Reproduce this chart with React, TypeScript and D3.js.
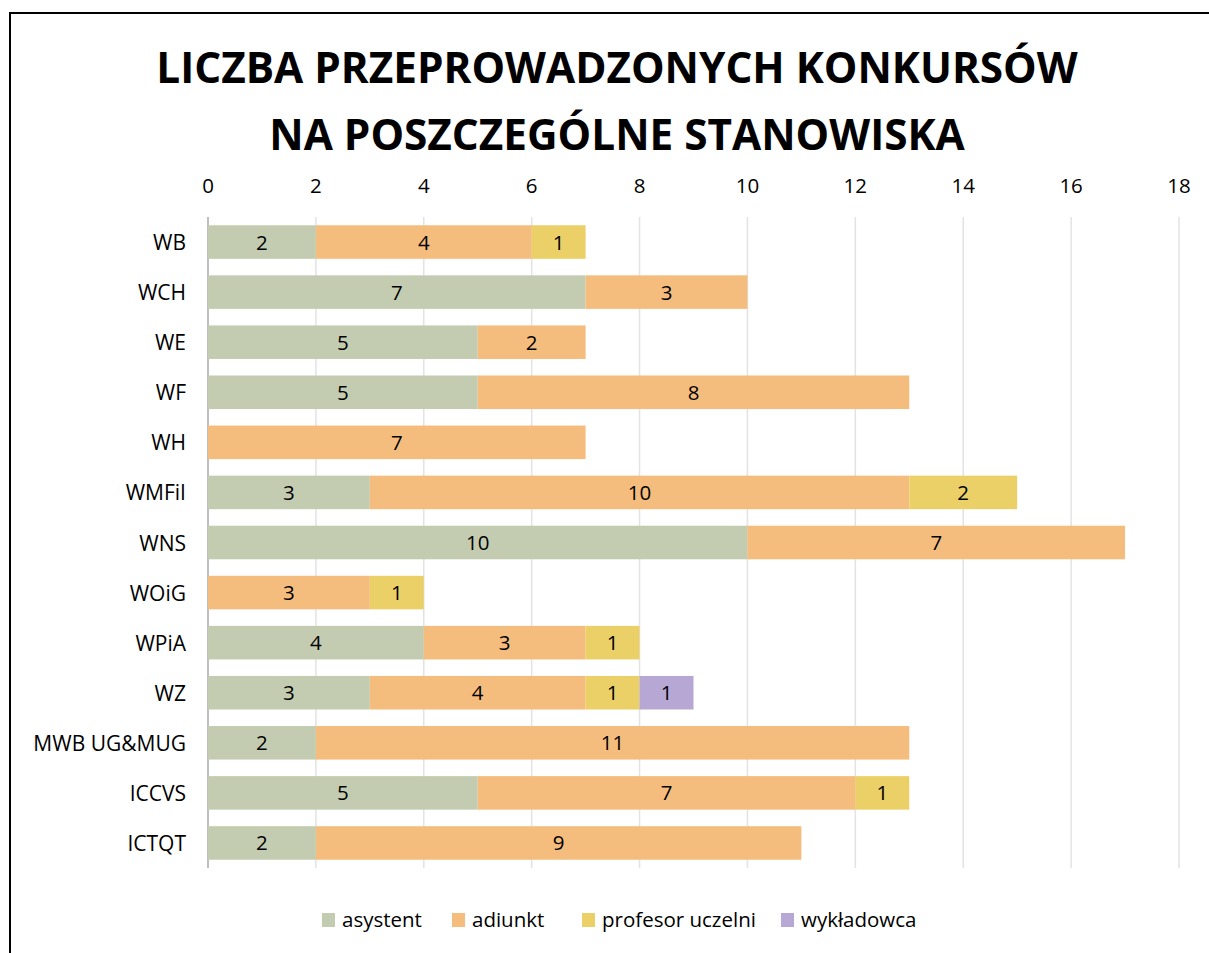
import React from "react";
import * as d3 from "d3";

const categories = ["WB", "WCH", "WE", "WF", "WH", "WMFiI", "WNS", "WOiG", "WPiA", "WZ", "MWB UG&MUG", "ICCVS", "ICTQT"];
const seriesNames = ["asystent", "adiunkt", "profesor uczelni", "wykładowca"];
const asystent = [2, 7, 5, 5, 0, 3, 10, 0, 4, 3, 2, 5, 2];
const adiunkt = [4, 3, 2, 8, 7, 10, 7, 3, 3, 4, 11, 7, 9];
const profesor = [1, 0, 0, 0, 0, 2, 0, 1, 1, 1, 0, 1, 0];
const wykladowca = [0, 0, 0, 0, 0, 0, 0, 0, 0, 1, 0, 0, 0];
const xTicks = [0, 2, 4, 6, 8, 10, 12, 14, 16, 18];
const colors = ["#C3CCB1", "#F5BD7D", "#EBD068", "#B7A7D4"];
const titleLines = ["LICZBA PRZEPROWADZONYCH KONKURSÓW", "NA POSZCZEGÓLNE STANOWISKA"];

const W = 1209, H = 953;
const FONT = "'Open Sans', sans-serif";

export default function App() {
  const seriesValues = [asystent, adiunkt, profesor, wykladowca];
  const rows = categories.map((c, i) => {
    const r: any = { cat: c };
    seriesNames.forEach((s, j) => (r[s] = seriesValues[j][i]));
    return r;
  });
  const stacked = d3.stack<any>().keys(seriesNames)(rows);
  const x = d3.scaleLinear().domain([0, 18]).range([208, 1179]);
  const y = d3.scaleBand().domain(categories).range([217, 868]).paddingInner(0.33).paddingOuter(0.165);
  const legendX = [322, 452, 582, 781];

  return (
    <svg width={W} height={H} style={{ position: "absolute", left: 0, top: 0 }}>
      <rect x={0} y={0} width={W} height={H} fill="#fff" />
      <rect x={10} y={13} width={W + 20} height={H + 20} fill="none" stroke="#000" strokeWidth={2} />
      {titleLines.map((t, i) => (
        <text key={i} x={617} y={83 + i * 67} textAnchor="middle" fontFamily={FONT} fontWeight={700} fontSize={42.3} fill="#000">
          {t}
        </text>
      ))}
      {xTicks.map((t) => (
        <g key={t}>
          <line x1={x(t)} x2={x(t)} y1={217} y2={868} stroke={t === 0 ? "#BFBFBF" : "#E3E3E3"} strokeWidth={t === 0 ? 2 : 1.5} />
          <text x={x(t)} y={193} textAnchor="middle" fontFamily={FONT} fontSize={20.5} fill="#000">
            {t}
          </text>
        </g>
      ))}
      {categories.map((c) => (
        <text key={c} x={186} y={(y(c) as number) + y.bandwidth() / 2 + 8} textAnchor="end" fontFamily={FONT} fontSize={21} fill="#000">
          {c}
        </text>
      ))}
      {stacked.map((s, si) => (
        <g key={s.key}>
          {s.map((d, i) => {
            const v = d[1] - d[0];
            if (!v) return null;
            const cy = y(categories[i]) as number;
            return (
              <g key={i}>
                <rect x={x(d[0])} y={cy} width={x(d[1]) - x(d[0])} height={y.bandwidth()} fill={colors[si]} />
                <text x={(x(d[0]) + x(d[1])) / 2} y={cy + y.bandwidth() / 2 + 7.5} textAnchor="middle" fontFamily={FONT} fontSize={20.5} fill="#000">
                  {v}
                </text>
              </g>
            );
          })}
        </g>
      ))}
      {seriesNames.map((s, i) => (
        <g key={s}>
          <rect x={legendX[i]} y={913} width={13} height={14} fill={colors[i]} />
          <text x={legendX[i] + 20} y={927} fontFamily={FONT} fontSize={20.5} fill="#000">
            {s}
          </text>
        </g>
      ))}
    </svg>
  );
}
